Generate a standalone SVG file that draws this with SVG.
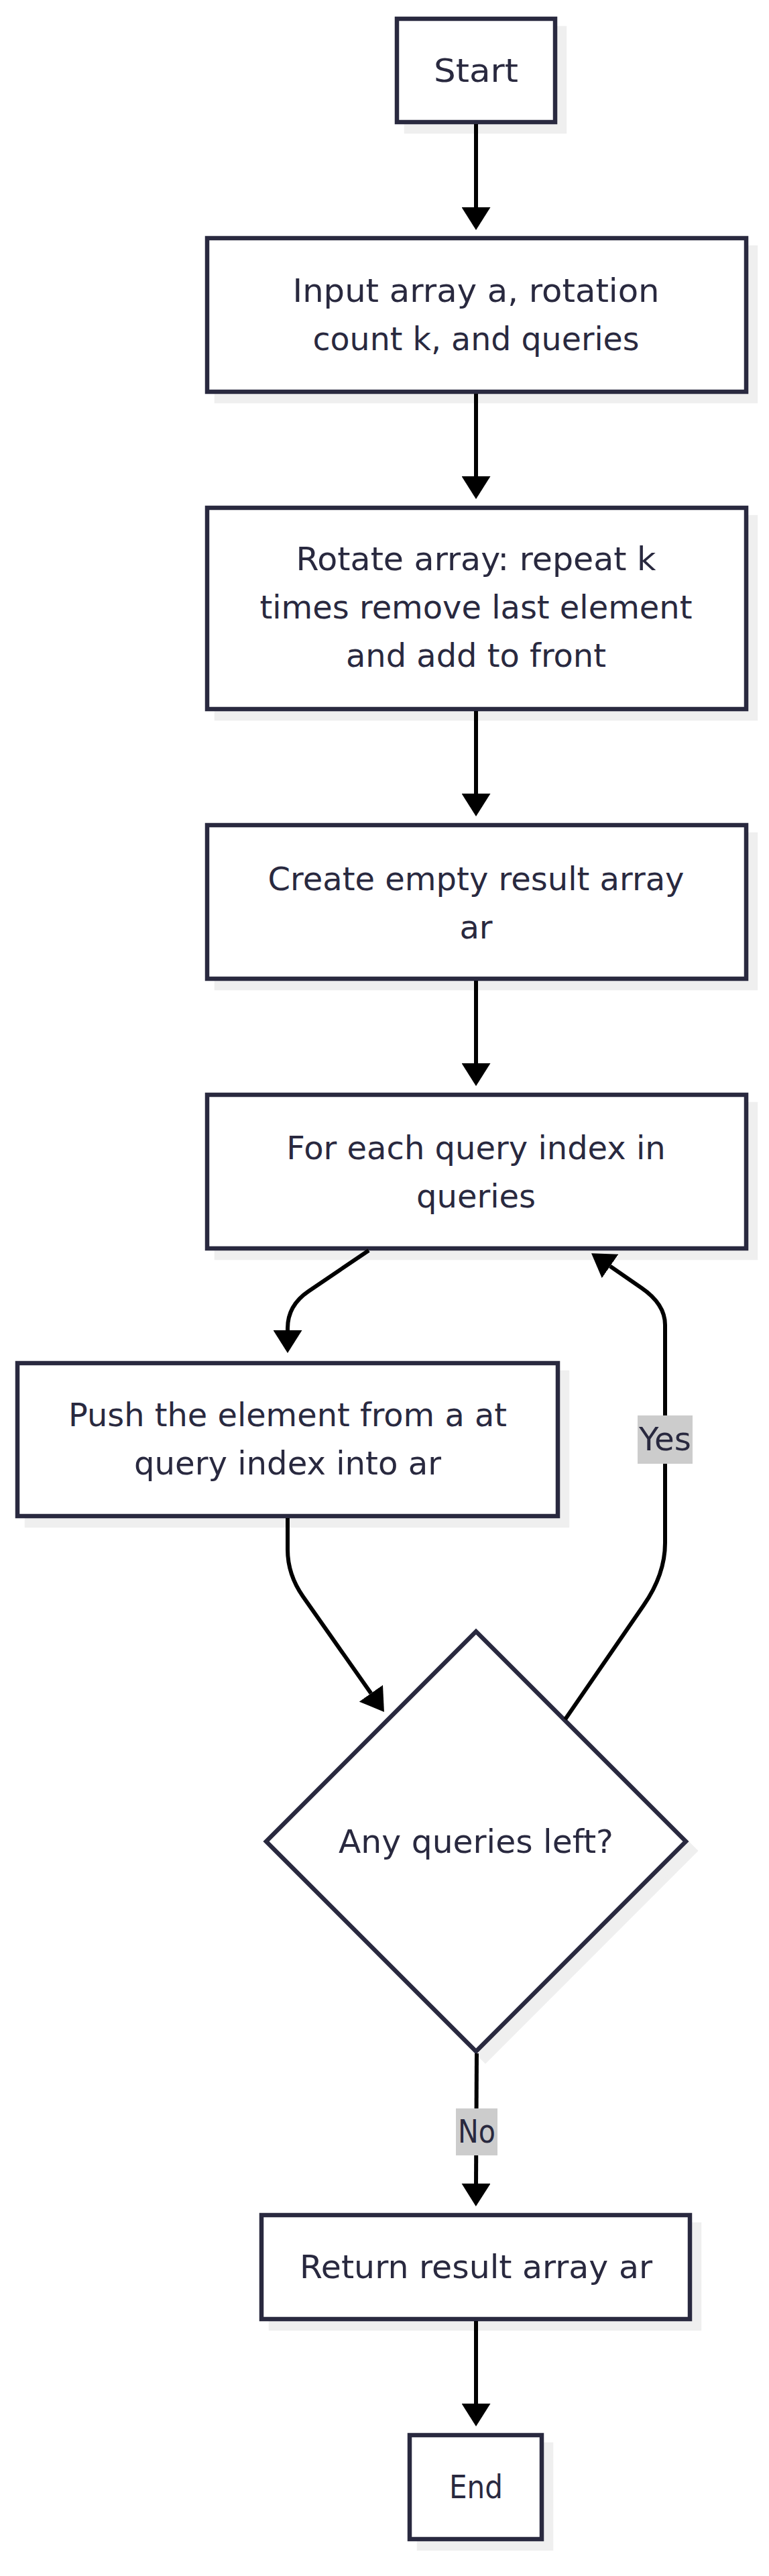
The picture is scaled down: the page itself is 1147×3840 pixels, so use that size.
<svg xmlns="http://www.w3.org/2000/svg" width="1147" height="3840" viewBox="0 0 1147 3840">
  <defs>
    <style>
      .shadow { fill: #efefef; stroke: #efefef; stroke-width: 6.5; }
      .box { fill: #ffffff; stroke: #29293f; stroke-width: 6.5; }
      .txt { font-family: "DejaVu Sans", "Liberation Sans", sans-serif; font-size: 48px; fill: #29293f; text-anchor: middle; }
      .edge { fill: none; stroke: #000000; stroke-width: 6; }
      .elbl { fill: #cccccc; }
    </style>
    <marker id="arrow" markerUnits="userSpaceOnUse" markerWidth="34" markerHeight="43" viewBox="0 0 34 43" refX="0" refY="21.5" orient="auto">
      <path d="M0,0 L34,21.5 L0,43 z" fill="#000000"/>
    </marker>
  </defs>
  <rect x="0" y="0" width="1147" height="3840" fill="#ffffff"/>

  <g id="node-start">
    <rect class="shadow" x="606" y="42" width="236" height="154"/>
    <rect class="box" x="592" y="28" width="236" height="154"/>
    <text class="txt" x="710" y="122" textLength="126" lengthAdjust="spacingAndGlyphs">Start</text>
  </g>

  <g id="node-input">
    <rect class="shadow" x="323" y="369" width="804" height="229"/>
    <rect class="box" x="309" y="355" width="804" height="229"/>
    <text class="txt" x="710" y="450" textLength="547" lengthAdjust="spacingAndGlyphs">Input array a, rotation</text>
    <text class="txt" x="710" y="522" textLength="487" lengthAdjust="spacingAndGlyphs">count k, and queries</text>
  </g>

  <g id="node-rotate">
    <rect class="shadow" x="323" y="771" width="804" height="300"/>
    <rect class="box" x="309" y="757" width="804" height="300"/>
    <text class="txt" x="710" y="850" textLength="537" lengthAdjust="spacingAndGlyphs">Rotate array: repeat k</text>
    <text class="txt" x="710" y="922" textLength="645" lengthAdjust="spacingAndGlyphs">times remove last element</text>
    <text class="txt" x="710" y="994" textLength="388" lengthAdjust="spacingAndGlyphs">and add to front</text>
  </g>

  <g id="node-create">
    <rect class="shadow" x="323" y="1244" width="804" height="229"/>
    <rect class="box" x="309" y="1230" width="804" height="229"/>
    <text class="txt" x="710" y="1327">Create empty result array</text>
    <text class="txt" x="710" y="1399">ar</text>
  </g>

  <g id="node-for">
    <rect class="shadow" x="323" y="1646" width="804" height="229"/>
    <rect class="box" x="309" y="1632" width="804" height="229"/>
    <text class="txt" x="710" y="1728">For each query index in</text>
    <text class="txt" x="710" y="1800">queries</text>
  </g>

  <g id="node-push">
    <rect class="shadow" x="40" y="2046" width="806" height="228"/>
    <rect class="box" x="26" y="2032" width="806" height="228"/>
    <text class="txt" x="429" y="2126" textLength="654" lengthAdjust="spacingAndGlyphs">Push the element from a at</text>
    <text class="txt" x="429" y="2198" textLength="458" lengthAdjust="spacingAndGlyphs">query index into ar</text>
  </g>

  <g id="node-decision">
    <polygon class="shadow" points="724,2446 1037,2759 724,3072 411,2759"/>
    <polygon class="box" points="710,2432 1023,2745 710,3058 397,2745"/>
    <text class="txt" x="710" y="2762" textLength="410" lengthAdjust="spacingAndGlyphs">Any queries left?</text>
  </g>

  <g id="node-return">
    <rect class="shadow" x="404" y="3316" width="639" height="155"/>
    <rect class="box" x="390" y="3302" width="639" height="155"/>
    <text class="txt" x="710" y="3396" textLength="526" lengthAdjust="spacingAndGlyphs">Return result array ar</text>
  </g>

  <g id="node-end">
    <rect class="shadow" x="625" y="3644" width="197" height="155"/>
    <rect class="box" x="611" y="3630" width="197" height="155"/>
    <text class="txt" x="710" y="3724" textLength="80" lengthAdjust="spacingAndGlyphs">End</text>
  </g>

  <g id="connectors">
    <path class="edge" d="M710,185 L710,309" marker-end="url(#arrow)"/>
    <path class="edge" d="M710,587 L710,710" marker-end="url(#arrow)"/>
    <path class="edge" d="M710,1060 L710,1183" marker-end="url(#arrow)"/>
    <path class="edge" d="M710,1462 L710,1585" marker-end="url(#arrow)"/>
    <path class="edge" d="M550,1864 L460,1925 Q429,1946 429,1980 L429,1983" marker-end="url(#arrow)"/>
    <path class="edge" d="M429,2263 L429,2310 Q429,2347 452,2380 L553.4,2524.2" marker-end="url(#arrow)"/>
    <path class="edge" d="M843,2563 L960,2393 Q992,2347 992,2300 L992,1975 Q992,1944 957,1920 L910,1887.5" marker-end="url(#arrow)"/>
    <path class="edge" d="M711,3061 L710,3255" marker-end="url(#arrow)"/>
    <path class="edge" d="M710,3460 L710,3583" marker-end="url(#arrow)"/>
  </g>

  <g id="edge-labels">
    <g id="label-yes">
      <rect class="elbl" x="951" y="2110" width="82" height="72"/>
      <text class="txt" x="992" y="2162" textLength="78" lengthAdjust="spacingAndGlyphs">Yes</text>
    </g>
    <g id="label-no">
      <rect class="elbl" x="680" y="3143" width="62" height="70"/>
      <text class="txt" x="711" y="3194" textLength="56" lengthAdjust="spacingAndGlyphs">No</text>
    </g>
  </g>
</svg>
